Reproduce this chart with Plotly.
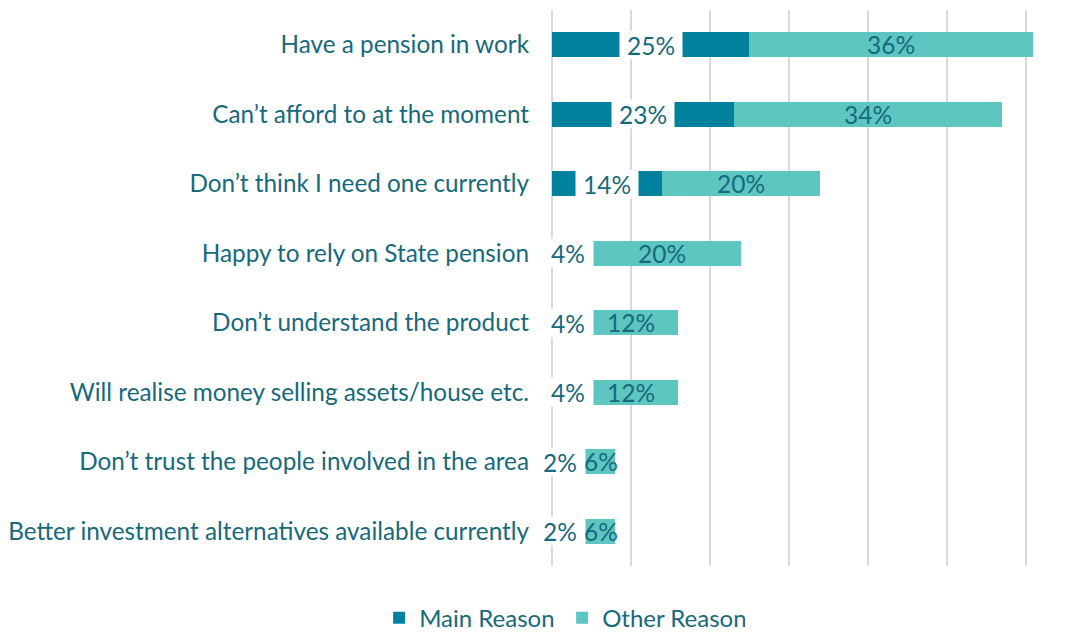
import plotly.graph_objects as go

categories = [
    "Have a pension in work",
    "Can’t afford to at the moment",
    "Don’t think I need one currently",
    "Happy to rely on State pension",
    "Don’t understand the product",
    "Will realise money selling assets/house etc.",
    "Don’t trust the people involved in the area",
    "Better investment alternatives available currently",
]
main_reason = [0.25, 0.23, 0.14, 0.04, 0.04, 0.04, 0.02, 0.02]
other_reason = [0.36, 0.34, 0.20, 0.20, 0.12, 0.12, 0.06, 0.06]

MAIN = "#00829f"
OTHER = "#5ec6c1"
TEXT = "#17697c"
FONT = "Lato, sans-serif"
LABEL_FONT = dict(color=TEXT, size=24.5, family=FONT)

fig = go.Figure()
fig.add_trace(go.Bar(
    y=categories, x=main_reason, name="Main Reason", orientation="h",
    marker=dict(color=MAIN, line_width=0),
))
fig.add_trace(go.Bar(
    y=categories, x=other_reason, name="Other Reason", orientation="h",
    marker=dict(color=OTHER, line_width=0),
))

# main reason labels sit on a white box in the middle of the dark bar
for cat, v in zip(categories, main_reason):
    label = f"{v:.0%}"
    fig.add_annotation(
        x=v / 2, y=cat, text=label, showarrow=False, font=LABEL_FONT,
        bgcolor="white", width=len(label) * 12 + 24, height=26,
    )

# other reason labels centred on the light bar (nudged right when the bar is narrow)
for cat, m, o in zip(categories, main_reason, other_reason):
    fig.add_annotation(
        x=m + o / 2, y=cat, text=f"{o:.0%}", showarrow=False, font=LABEL_FONT,
        xshift=10 if o < 0.1 else 0,
    )

# page body adds an 8px margin, so the figure is sized to fit inside the window
fig.update_layout(
    barmode="stack",
    bargap=0.64,
    width=1084, height=624,
    paper_bgcolor="white", plot_bgcolor="white",
    font=dict(family=FONT, color=TEXT, size=24),
    margin=dict(l=544, r=27, t=2, b=66, autoexpand=False),
    showlegend=True,
    legend=dict(
        orientation="h", xref="container", yref="container",
        x=0.5112, xanchor="center", y=0.022, yanchor="middle",
        font=dict(size=24, color=TEXT), traceorder="normal",
        itemwidth=30, entrywidth=138,
    ),
)
fig.update_xaxes(
    range=[0, 0.65], dtick=0.1, showticklabels=False,
    showgrid=True, gridcolor="#d9d9d9", gridwidth=2,
    zeroline=True, zerolinecolor="#d9d9d9", zerolinewidth=2,
)
fig.update_yaxes(
    autorange="reversed", ticks="", ticklabelstandoff=22,
    tickfont=dict(size=24.3, color=TEXT),
)

fig.write_html("out.html")
